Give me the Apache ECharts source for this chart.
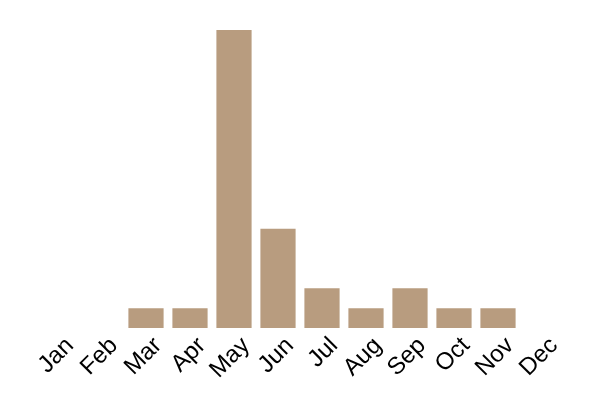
<!DOCTYPE html>
<html><head><meta charset="utf-8">
<script src="https://cdn.jsdelivr.net/npm/echarts@6/dist/echarts.min.js"></script>
<style>html,body{margin:0;padding:0;background:#fff}#c{width:600px;height:400px}</style>
</head><body><div id="c"></div>
<script>
const months = ['Jan','Feb','Mar','Apr','May','Jun','Jul','Aug','Sep','Oct','Nov','Dec'];
const counts = [0,0,1,1,15,5,2,1,2,1,1,0];
const chart = echarts.init(document.getElementById('c'));
chart.setOption({
  animation:false,
  grid:{left:36,right:36,top:30,bottom:72},
  xAxis:{type:'category',data:months,axisLine:{show:false},axisTick:{show:false},
    axisLabel:{rotate:45,fontSize:24,color:'#000',fontFamily:'Liberation Sans, Arial, sans-serif',margin:9,interval:0,verticalAlign:'top',padding:[0,-5,0,0]}},
  yAxis:{type:'value',min:0,max:15,show:false,splitLine:{show:false}},
  series:[{type:'bar',data:counts,barCategoryGap:'20%',itemStyle:{color:'#b89c7f'}}]
});
</script></body></html>
